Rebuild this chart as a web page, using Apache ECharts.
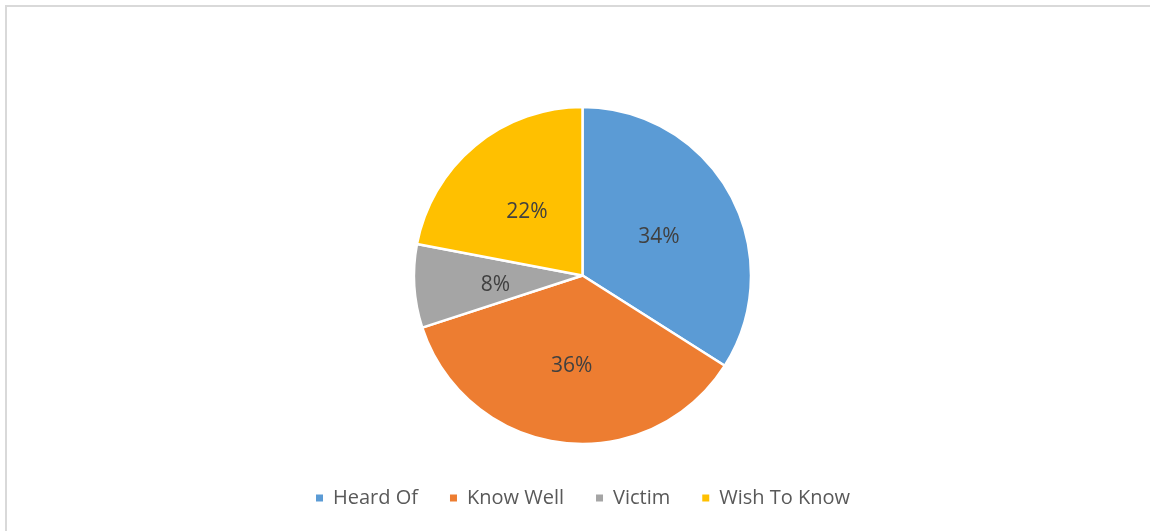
<!DOCTYPE html>
<html>
<head>
<meta charset="utf-8">
<style>
  html, body { margin: 0; padding: 0; background: #ffffff; }
  #chart { width: 1150px; height: 531px; }
</style>
<script src="https://cdn.jsdelivr.net/npm/echarts@6/dist/echarts.min.js"></script>
</head>
<body>
<div id="chart"></div>
<script>
// Survey answers, share of respondents (%)
const categories = ['Heard Of', 'Know Well', 'Victim', 'Wish To Know'];
const shares = [34, 36, 8, 22];
const colors = ['#5B9BD5', '#ED7D31', '#A5A5A5', '#FFC000'];

const chart = echarts.init(document.getElementById('chart'), null, { renderer: 'canvas' });

const seriesData = categories.map((name, i) => ({
  name: name,
  value: shares[i],
  itemStyle: { color: colors[i] }
}));

chart.setOption({
  animation: false,
  backgroundColor: '#ffffff',
  graphic: [{
    type: 'rect',
    silent: true,
    shape: { x: 6, y: 6, width: 1200, height: 600 },
    style: { fill: 'none', stroke: '#d9d9d9', lineWidth: 2 }
  }],
  legend: {
    left: 314,
    top: 488,
    padding: 0,
    itemWidth: 9,
    itemHeight: 9,
    itemGap: 30,
    icon: 'rect',
    selectedMode: false,
    textStyle: {
      fontFamily: 'Open Sans',
      fontSize: 20,
      color: '#595959',
      padding: [0, 0, 0, 4]
    },
    data: categories
  },
  series: [{
    type: 'pie',
    center: [582.5, 275.5],
    radius: [0, 168.5],
    startAngle: 90,
    clockwise: true,
    avoidLabelOverlap: false,
    emphasis: { disabled: true },
    itemStyle: { borderColor: '#ffffff', borderWidth: 2.5 },
    label: {
      show: true,
      position: 'inside',
      formatter: '{pct|{c}%}',
      rich: {
        pct: {
          fontFamily: 'Open Sans',
          fontSize: 21,
          color: '#404040',
          padding: [8, 0, 0, 0]
        }
      }
    },
    labelLine: { show: false },
    data: seriesData
  }]
});
</script>
</body>
</html>
